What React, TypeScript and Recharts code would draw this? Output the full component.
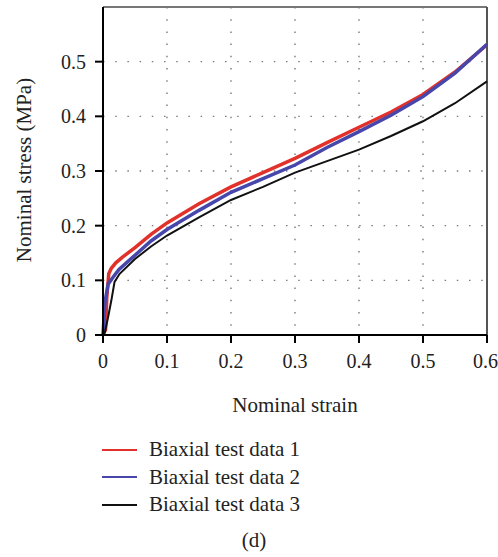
import { CartesianGrid, Line, LineChart, ReferenceLine, XAxis, YAxis } from "recharts"

const seriesNames = ["Biaxial test data 1", "Biaxial test data 2", "Biaxial test data 3"]
const seriesColors = ["#e2312b", "#4646ab", "#111111"]

const strain1 = [0, 0.004, 0.006, 0.009, 0.013, 0.02, 0.03, 0.05, 0.075, 0.1, 0.15, 0.2, 0.25, 0.3, 0.35, 0.4, 0.45, 0.5, 0.55, 0.6]
const stress1 = [0, 0.01, 0.07, 0.112, 0.122, 0.132, 0.142, 0.16, 0.184, 0.205, 0.24, 0.271, 0.297, 0.323, 0.352, 0.38, 0.408, 0.44, 0.481, 0.531]

const strain2 = [0, 0.003, 0.008, 0.016, 0.025, 0.05, 0.075, 0.1, 0.15, 0.2, 0.25, 0.3, 0.35, 0.4, 0.45, 0.5, 0.55, 0.6]
const stress2 = [0, 0.06, 0.093, 0.106, 0.12, 0.146, 0.172, 0.193, 0.228, 0.261, 0.286, 0.311, 0.343, 0.372, 0.402, 0.436, 0.479, 0.532]

const strain3 = [0, 0.003, 0.008, 0.013, 0.018, 0.026, 0.05, 0.075, 0.1, 0.15, 0.2, 0.25, 0.3, 0.35, 0.4, 0.45, 0.5, 0.55, 0.6]
const stress3 = [0, 0.005, 0.033, 0.063, 0.097, 0.112, 0.139, 0.162, 0.182, 0.215, 0.247, 0.271, 0.297, 0.318, 0.339, 0.364, 0.391, 0.424, 0.464]

const xTicks = [0, 0.1, 0.2, 0.3, 0.4, 0.5, 0.6]
const yTicks = [0, 0.1, 0.2, 0.3, 0.4, 0.5]

const toPoints = (xs: number[], ys: number[]) => xs.map((x, i) => ({ x, y: ys[i] }))
const series = [toPoints(strain1, stress1), toPoints(strain2, stress2), toPoints(strain3, stress3)]

const font = "'Liberation Serif', 'Times New Roman', serif"

export default function App() {
  return (
    <div style={{ position: "absolute", left: 0, top: 0, width: 498, height: 557, fontFamily: font, background: "#fff" }}>
      <LineChart width={498} height={557} margin={{ top: 7, right: 11, bottom: 192, left: 0 }}>
        <CartesianGrid stroke="#7a7a7a" strokeWidth={1.4} strokeDasharray="1.5 10.7" />
        <XAxis
          type="number"
          dataKey="x"
          domain={[0, 0.6]}
          ticks={xTicks}
          height={30}
          stroke="#000"
          strokeWidth={2}
          tickSize={8}
          tickMargin={11}
          tick={{ fill: "#222", fontSize: 20, fontFamily: font }}
          label={{
            content: (p: any) => (
              <text x={(p.viewBox?.x ?? 103) + (p.viewBox?.width ?? 384) / 2} y={(p.viewBox?.y ?? 335) + 77} textAnchor="middle" fontSize={21} fontFamily={font} fill="#222">
                Nominal strain
              </text>
            ),
          }}
        />
        <YAxis
          type="number"
          domain={[0, 0.6]}
          ticks={yTicks}
          width={103}
          stroke="#000"
          strokeWidth={2}
          tickSize={8}
          tickMargin={9}
          tick={{ fill: "#222", fontSize: 20, fontFamily: font }}
          label={{
            content: () => (
              <text x={24} y={170} transform="rotate(-90, 24, 170)" textAnchor="middle" dominantBaseline="central" fontSize={21} fontFamily={font} fill="#222">
                Nominal stress (MPa)
              </text>
            ),
          }}
        />
        <ReferenceLine y={0.6} stroke="#777" strokeWidth={2} />
        <ReferenceLine x={0.6} stroke="#555" strokeWidth={2} />
        {series.map((pts, i) => (
          <Line
            key={seriesNames[i]}
            data={pts}
            dataKey="y"
            type="linear"
            stroke={seriesColors[i]}
            strokeWidth={i === 2 ? 2 : 3.5}
            dot={false}
            isAnimationActive={false}
          />
        ))}
      </LineChart>
      <div style={{ position: "absolute", left: 102, top: 436, fontSize: 21, color: "#222" }}>
        {seriesNames.map((name, i) => (
          <div key={name} style={{ display: "flex", alignItems: "center", height: 27.5 }}>
            <span style={{ display: "inline-block", width: 35, height: 2, background: seriesColors[i], marginRight: 12 }} />
            <span>{name}</span>
          </div>
        ))}
      </div>
      <div style={{ position: "absolute", left: 0, width: 508, top: 528, textAlign: "center", fontSize: 21, color: "#222" }}>(d)</div>
    </div>
  )
}
